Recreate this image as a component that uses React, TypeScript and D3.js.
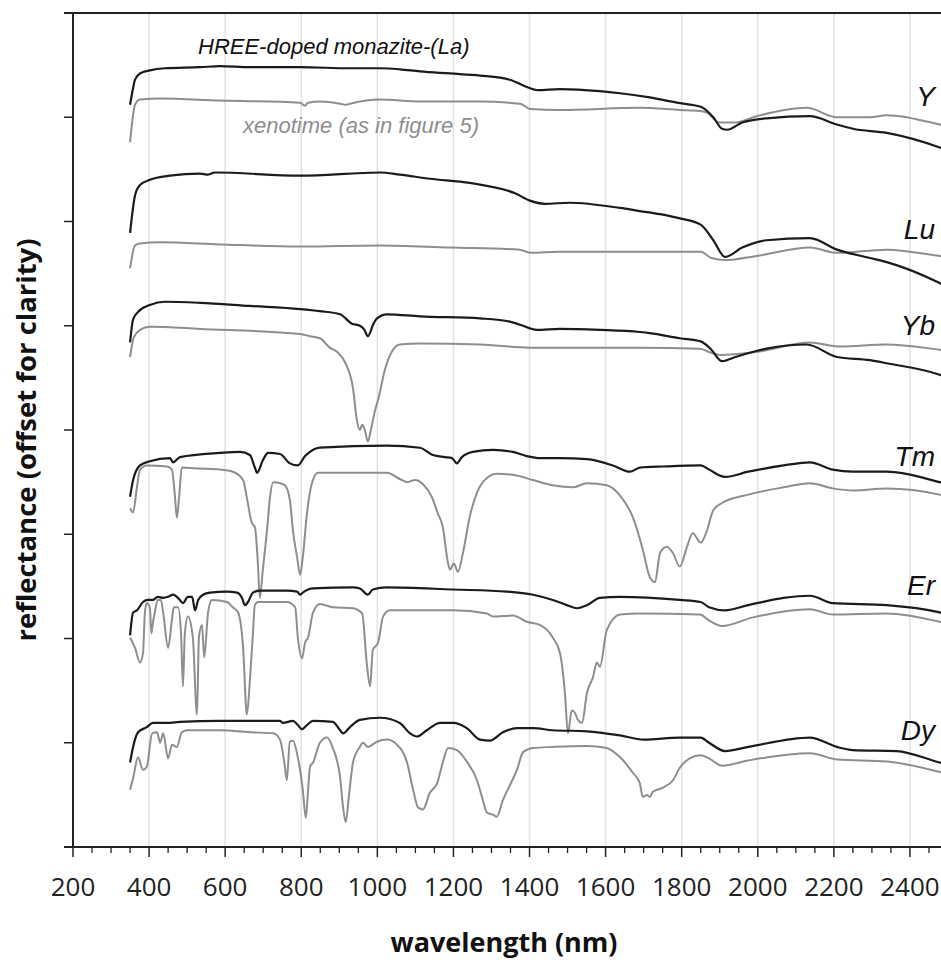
import React from "react";
import * as d3 from "d3";

type P = [number, number];

// x tick labels (nm)
const xTicks = [200, 400, 600, 800, 1000, 1200, 1400, 1600, 1800, 2000, 2200, 2400];
const yTicks = [0, 1, 2, 3, 4, 5, 6, 7, 8];

const panelLabels = ["Y", "Lu", "Yb", "Tm", "Er", "Dy"];
const panelLabelBaseline = [7.11, 5.83, 4.91, 3.65, 2.42, 1.03];

// ---- Y ----
const yMonazite: P[] = [
  [350, 7.12], [358, 7.28], [363, 7.36], [376, 7.42], [402, 7.45], [442, 7.47], [534, 7.48], [586, 7.49],
  [665, 7.48], [797, 7.48], [928, 7.47], [1007, 7.47], [1059, 7.46], [1112, 7.44], [1191, 7.42], [1270, 7.40],
  [1348, 7.36], [1393, 7.29], [1422, 7.26], [1480, 7.27], [1585, 7.25], [1638, 7.23], [1716, 7.19], [1787, 7.14],
  [1850, 7.10], [1883, 7.00], [1906, 6.89], [1920, 6.88], [1959, 6.95], [2023, 6.99], [2137, 7.01], [2208, 6.93],
  [2250, 6.89], [2339, 6.85], [2478, 6.71], [2500, 6.68],
];
const yXenotime: P[] = [
  [350, 6.76], [363, 7.12], [376, 7.17], [429, 7.18], [586, 7.16], [797, 7.14], [810, 7.11], [818, 7.14],
  [849, 7.15], [902, 7.13], [917, 7.12], [928, 7.13], [1007, 7.17], [1112, 7.15], [1270, 7.15], [1375, 7.13],
  [1401, 7.08], [1480, 7.07], [1690, 7.09], [1795, 7.07], [1848, 7.06], [1869, 7.04], [1898, 6.95], [1941, 6.95],
  [1997, 7.01], [2129, 7.09], [2208, 7.00], [2295, 7.00], [2339, 7.02], [2478, 6.93], [2500, 6.91],
];

// ---- Lu ----
const luMonazite: P[] = [
  [350, 5.89], [363, 6.25], [376, 6.35], [402, 6.40], [455, 6.44], [534, 6.46], [555, 6.45], [573, 6.47],
  [797, 6.44], [1007, 6.47], [1059, 6.45], [1138, 6.41], [1243, 6.37], [1362, 6.27], [1401, 6.20], [1440, 6.17],
  [1506, 6.18], [1638, 6.13], [1690, 6.10], [1743, 6.07], [1795, 6.03], [1850, 5.97], [1883, 5.82], [1914, 5.66],
  [1959, 5.75], [2023, 5.82], [2137, 5.84], [2208, 5.73], [2295, 5.65], [2339, 5.61], [2478, 5.41], [2500, 5.37],
];
const luXenotime: P[] = [
  [350, 5.55], [363, 5.77], [376, 5.79], [429, 5.80], [586, 5.78], [797, 5.76], [1007, 5.77], [1191, 5.75],
  [1375, 5.73], [1401, 5.70], [1480, 5.71], [1690, 5.71], [1850, 5.71], [1878, 5.65], [1914, 5.63], [1997, 5.67],
  [2137, 5.75], [2208, 5.70], [2339, 5.73], [2478, 5.67], [2500, 5.66],
];

// ---- Yb ----
const ybMonazite: P[] = [
  [350, 4.84], [358, 5.06], [376, 5.15], [402, 5.20], [442, 5.23], [534, 5.22], [665, 5.19], [797, 5.16],
  [849, 5.14], [902, 5.11], [933, 5.02], [954, 5.00], [966, 4.96], [975, 4.90], [990, 5.02], [999, 5.07],
  [1025, 5.11], [1112, 5.09], [1270, 5.07], [1348, 5.04], [1375, 5.01], [1419, 4.96], [1480, 4.97], [1585, 4.96],
  [1690, 4.94], [1716, 4.93], [1795, 4.88], [1850, 4.85], [1878, 4.77], [1906, 4.66], [1941, 4.70], [2023, 4.78],
  [2129, 4.82], [2208, 4.70], [2295, 4.67], [2339, 4.64], [2478, 4.53], [2500, 4.50],
];
const ybXenotime: P[] = [
  [350, 4.70], [360, 4.89], [376, 4.96], [402, 4.99], [534, 4.97], [797, 4.92], [823, 4.90], [849, 4.88],
  [875, 4.79], [894, 4.75], [915, 4.65], [936, 4.40], [946, 4.10], [954, 4.00], [960, 4.05], [967, 4.00],
  [975, 3.89], [983, 4.00], [994, 4.19], [1002, 4.29], [1020, 4.58], [1038, 4.75], [1059, 4.82], [1112, 4.83],
  [1270, 4.82], [1401, 4.79], [1690, 4.79], [1848, 4.78], [1878, 4.74], [1901, 4.72], [1997, 4.75], [2137, 4.84],
  [2216, 4.80], [2339, 4.82], [2478, 4.77], [2500, 4.76],
];

// ---- Tm ----
const tmMonazite: P[] = [
  [350, 3.36], [358, 3.52], [376, 3.66], [402, 3.70], [455, 3.73], [463, 3.69], [481, 3.74], [586, 3.78],
  [639, 3.79], [665, 3.76], [678, 3.64], [684, 3.59], [699, 3.71], [713, 3.78], [744, 3.77], [770, 3.68],
  [791, 3.66], [810, 3.75], [823, 3.79], [849, 3.83], [1025, 3.85], [1112, 3.83], [1146, 3.76], [1178, 3.74],
  [1196, 3.73], [1209, 3.68], [1222, 3.74], [1251, 3.79], [1304, 3.81], [1356, 3.79], [1393, 3.75], [1427, 3.73],
  [1480, 3.73], [1551, 3.72], [1619, 3.66], [1664, 3.60], [1690, 3.64], [1751, 3.65], [1850, 3.66], [1872, 3.62],
  [1914, 3.55], [1975, 3.60], [2068, 3.66], [2137, 3.69], [2197, 3.62], [2250, 3.60], [2339, 3.60], [2478, 3.50],
  [2500, 3.48],
];
const tmXenotime: P[] = [
  [350, 3.25], [358, 3.21], [368, 3.45], [376, 3.62], [394, 3.66], [447, 3.65], [460, 3.62], [468, 3.36],
  [473, 3.16], [479, 3.36], [486, 3.64], [534, 3.63], [586, 3.62], [620, 3.60], [647, 3.52], [657, 3.35],
  [670, 3.11], [678, 3.07], [686, 2.72], [691, 2.39], [699, 2.66], [710, 3.04], [718, 3.36], [726, 3.50],
  [744, 3.49], [757, 3.47], [770, 3.33], [778, 3.04], [789, 2.78], [797, 2.61], [804, 2.78], [815, 3.20],
  [828, 3.49], [844, 3.59], [936, 3.59], [1025, 3.59], [1059, 3.53], [1078, 3.50], [1099, 3.52], [1120, 3.48],
  [1143, 3.36], [1159, 3.20], [1172, 3.07], [1186, 2.72], [1191, 2.66], [1201, 2.72], [1212, 2.64], [1225, 2.82],
  [1243, 3.17], [1262, 3.40], [1288, 3.54], [1314, 3.58], [1356, 3.57], [1409, 3.52], [1461, 3.47], [1514, 3.45],
  [1551, 3.49], [1603, 3.47], [1638, 3.37], [1672, 3.16], [1698, 2.85], [1716, 2.59], [1730, 2.54], [1743, 2.82],
  [1761, 2.88], [1777, 2.82], [1795, 2.69], [1814, 2.88], [1829, 3.01], [1850, 2.92], [1864, 3.01], [1883, 3.23],
  [1906, 3.30], [1975, 3.38], [2068, 3.45], [2137, 3.49], [2197, 3.44], [2250, 3.42], [2339, 3.44], [2478, 3.38],
  [2500, 3.36],
];

// ---- Er ----
const erMonazite: P[] = [
  [350, 2.03], [358, 2.25], [368, 2.27], [384, 2.35], [397, 2.37], [410, 2.37], [423, 2.40], [437, 2.39],
  [450, 2.40], [463, 2.42], [476, 2.39], [489, 2.34], [502, 2.40], [513, 2.40], [521, 2.27], [529, 2.37],
  [542, 2.42], [560, 2.44], [605, 2.45], [631, 2.44], [644, 2.39], [652, 2.32], [660, 2.35], [673, 2.44],
  [691, 2.46], [762, 2.46], [789, 2.45], [797, 2.42], [804, 2.44], [831, 2.48], [936, 2.49], [954, 2.48],
  [975, 2.42], [988, 2.47], [1025, 2.49], [1199, 2.47], [1341, 2.45], [1409, 2.42], [1461, 2.37], [1498, 2.32],
  [1525, 2.29], [1551, 2.32], [1585, 2.39], [1638, 2.40], [1795, 2.37], [1850, 2.35], [1872, 2.30], [1914, 2.27],
  [1975, 2.32], [2068, 2.39], [2137, 2.41], [2197, 2.34], [2339, 2.32], [2478, 2.25], [2500, 2.23],
];
const erXenotime: P[] = [
  [350, 2.01], [363, 1.91], [376, 1.77], [384, 1.86], [389, 2.25], [394, 2.34], [402, 2.30], [406, 2.05],
  [410, 2.15], [415, 2.25], [423, 2.37], [431, 2.37], [437, 2.25], [450, 1.91], [460, 2.18], [465, 2.30],
  [476, 2.30], [484, 2.05], [489, 1.54], [494, 2.05], [502, 2.21], [515, 2.01], [526, 1.27], [531, 2.01],
  [539, 2.13], [545, 1.82], [555, 2.25], [565, 2.37], [605, 2.35], [620, 2.30], [634, 2.25], [647, 1.92],
  [657, 1.27], [665, 1.60], [673, 2.05], [678, 2.32], [686, 2.35], [762, 2.35], [784, 2.30], [791, 2.01],
  [802, 1.81], [810, 1.96], [818, 2.01], [831, 2.25], [849, 2.33], [883, 2.30], [936, 2.29], [960, 2.24],
  [973, 1.73], [981, 1.54], [988, 1.89], [1002, 1.96], [1015, 2.21], [1033, 2.27], [1199, 2.27], [1288, 2.24],
  [1304, 2.21], [1356, 2.22], [1393, 2.16], [1427, 2.13], [1461, 2.01], [1480, 1.86], [1493, 1.48], [1501, 1.09],
  [1511, 1.31], [1519, 1.29], [1527, 1.22], [1538, 1.19], [1551, 1.48], [1567, 1.63], [1577, 1.77], [1585, 1.73],
  [1603, 2.08], [1638, 2.23], [1690, 2.24], [1848, 2.23], [1869, 2.18], [1906, 2.12], [1985, 2.20], [2137, 2.28],
  [2197, 2.23], [2339, 2.24], [2478, 2.16], [2500, 2.14],
];

// ---- Dy ----
const dyMonazite: P[] = [
  [350, 0.81], [358, 0.96], [371, 1.10], [394, 1.15], [410, 1.19], [447, 1.19], [481, 1.20], [586, 1.21],
  [744, 1.21], [752, 1.19], [778, 1.21], [791, 1.17], [802, 1.13], [815, 1.17], [831, 1.21], [883, 1.20],
  [902, 1.12], [910, 1.09], [928, 1.15], [954, 1.22], [1007, 1.24], [1059, 1.19], [1086, 1.09], [1104, 1.06],
  [1130, 1.12], [1165, 1.19], [1199, 1.19], [1235, 1.14], [1270, 1.03], [1296, 1.02], [1330, 1.10], [1367, 1.14],
  [1409, 1.14], [1461, 1.12], [1551, 1.11], [1638, 1.07], [1700, 1.03], [1795, 1.05], [1850, 1.05], [1872, 1.00],
  [1914, 0.92], [1975, 0.96], [2137, 1.05], [2208, 0.96], [2250, 0.93], [2365, 0.92], [2478, 0.81], [2500, 0.79],
];
const dyXenotime: P[] = [
  [350, 0.55], [358, 0.66], [371, 0.86], [384, 0.74], [394, 0.77], [408, 1.09], [421, 1.10], [429, 1.00],
  [437, 1.09], [450, 0.85], [460, 0.98], [473, 0.96], [486, 1.10], [500, 1.12], [586, 1.12], [673, 1.10],
  [726, 1.09], [744, 1.03], [757, 0.77], [762, 0.64], [770, 1.01], [778, 1.02], [791, 0.86], [804, 0.55],
  [812, 0.28], [818, 0.55], [823, 0.77], [831, 0.81], [849, 1.00], [868, 1.05], [883, 0.95], [902, 0.67],
  [910, 0.38], [917, 0.24], [925, 0.48], [936, 0.81], [954, 0.96], [962, 1.00], [975, 0.96], [999, 1.01],
  [1025, 1.03], [1052, 0.98], [1078, 0.81], [1094, 0.55], [1107, 0.38], [1120, 0.36], [1138, 0.52], [1157, 0.61],
  [1172, 0.81], [1186, 0.95], [1209, 0.93], [1235, 0.82], [1262, 0.64], [1275, 0.48], [1288, 0.33], [1304, 0.31],
  [1314, 0.29], [1330, 0.45], [1348, 0.59], [1367, 0.74], [1383, 0.91], [1409, 0.95], [1461, 0.96], [1551, 0.97],
  [1603, 0.95], [1638, 0.86], [1672, 0.71], [1690, 0.61], [1698, 0.48], [1708, 0.50], [1716, 0.48], [1724, 0.53],
  [1751, 0.57], [1777, 0.64], [1795, 0.76], [1821, 0.85], [1850, 0.88], [1872, 0.85], [1906, 0.78], [1975, 0.83],
  [2137, 0.90], [2208, 0.84], [2339, 0.82], [2478, 0.72], [2500, 0.70],
];

const monaziteSeries = [yMonazite, luMonazite, ybMonazite, tmMonazite, erMonazite, dyMonazite];
const xenotimeSeries = [yXenotime, luXenotime, ybXenotime, tmXenotime, erXenotime, dyXenotime];

const W = 941;
const H = 962;

export default function App() {
  const x = d3.scaleLinear().domain([200, 2500]).range([73, 948]);
  const y = d3.scaleLinear().domain([0, 8]).range([847, 13]);
  const line = d3
    .line<P>()
    .x((d) => x(d[0]))
    .y((d) => y(d[1]))
    .curve(d3.curveMonotoneX);

  const minorTicks = d3.range(200, 2501, 50).filter((v) => v % 200 !== 0);
  const black = "#1b1b1b";
  const gray = "#8e8e8e";

  return (
    <svg
      width={W}
      height={H}
      style={{ position: "absolute", left: 0, top: 0, background: "#fff" }}
    >
      <rect x={0} y={0} width={W} height={H} fill="#fff" />
      {/* gridlines */}
      {xTicks.filter((t) => t > 200).map((t) => (
        <line key={"g" + t} x1={x(t)} x2={x(t)} y1={y(8)} y2={y(0)} stroke="#e2e2e2" strokeWidth={1.5} />
      ))}
      {/* xenotime (gray) */}
      {xenotimeSeries.map((s, i) => (
        <path key={"x" + i} d={line(s) || ""} fill="none" stroke={gray} strokeWidth={2} strokeLinejoin="round" />
      ))}
      {/* monazite (black) */}
      {monaziteSeries.map((s, i) => (
        <path key={"m" + i} d={line(s) || ""} fill="none" stroke={black} strokeWidth={2.2} strokeLinejoin="round" />
      ))}
      {/* axes */}
      <line x1={x(200)} x2={x(200)} y1={y(8)} y2={y(0)} stroke="#222" strokeWidth={2} />
      <line x1={x(200) - 9} x2={W + 10} y1={y(0)} y2={y(0)} stroke="#222" strokeWidth={2} />
      <line x1={x(200) - 9} x2={W + 10} y1={y(8)} y2={y(8)} stroke="#222" strokeWidth={2} />
      {yTicks.map((t) => (
        <line key={"yt" + t} x1={x(200) - 9} x2={x(200)} y1={y(t)} y2={y(t)} stroke="#222" strokeWidth={1.5} />
      ))}
      {xTicks.map((t) => (
        <line key={"xt" + t} x1={x(t)} x2={x(t)} y1={y(0)} y2={y(0) + 10} stroke="#222" strokeWidth={1.5} />
      ))}
      {minorTicks.map((t) => (
        <line key={"mt" + t} x1={x(t)} x2={x(t)} y1={y(0)} y2={y(0) + 6} stroke="#222" strokeWidth={1.3} />
      ))}
      {xTicks.map((t) => (
        <text
          key={"xl" + t}
          x={x(t)}
          y={896}
          textAnchor="middle"
          fontFamily="'Open Sans', sans-serif"
          fontSize={26}
          fill="#222"
        >
          {t}
        </text>
      ))}
      {/* axis titles */}
      <text
        x={504}
        y={952}
        textAnchor="middle"
        fontFamily="'Open Sans', sans-serif"
        fontWeight="bold"
        fontSize={27}
        fill="#111"
      >
        wavelength (nm)
      </text>
      <text
        transform={`translate(36, ${440}) rotate(-90)`}
        textAnchor="middle"
        fontFamily="'Open Sans', sans-serif"
        fontWeight="bold"
        fontSize={27.5}
        fill="#111"
      >
        reflectance (offset for clarity)
      </text>
      {/* annotations */}
      <text x={198} y={54} fontFamily="'Liberation Sans', Arial, sans-serif" fontStyle="italic" fontSize={22} fill="#111">
        HREE-doped monazite-(La)
      </text>
      <text x={243} y={133} fontFamily="'Liberation Sans', Arial, sans-serif" fontStyle="italic" fontSize={22} fill={gray}>
        xenotime (as in figure 5)
      </text>
      {panelLabels.map((lab, i) => (
        <text
          key={lab}
          x={935}
          y={y(panelLabelBaseline[i])}
          textAnchor="end"
          fontFamily="'Liberation Sans', Arial, sans-serif"
          fontStyle="italic"
          fontSize={28}
          fill="#111"
        >
          {lab}
        </text>
      ))}
    </svg>
  );
}
